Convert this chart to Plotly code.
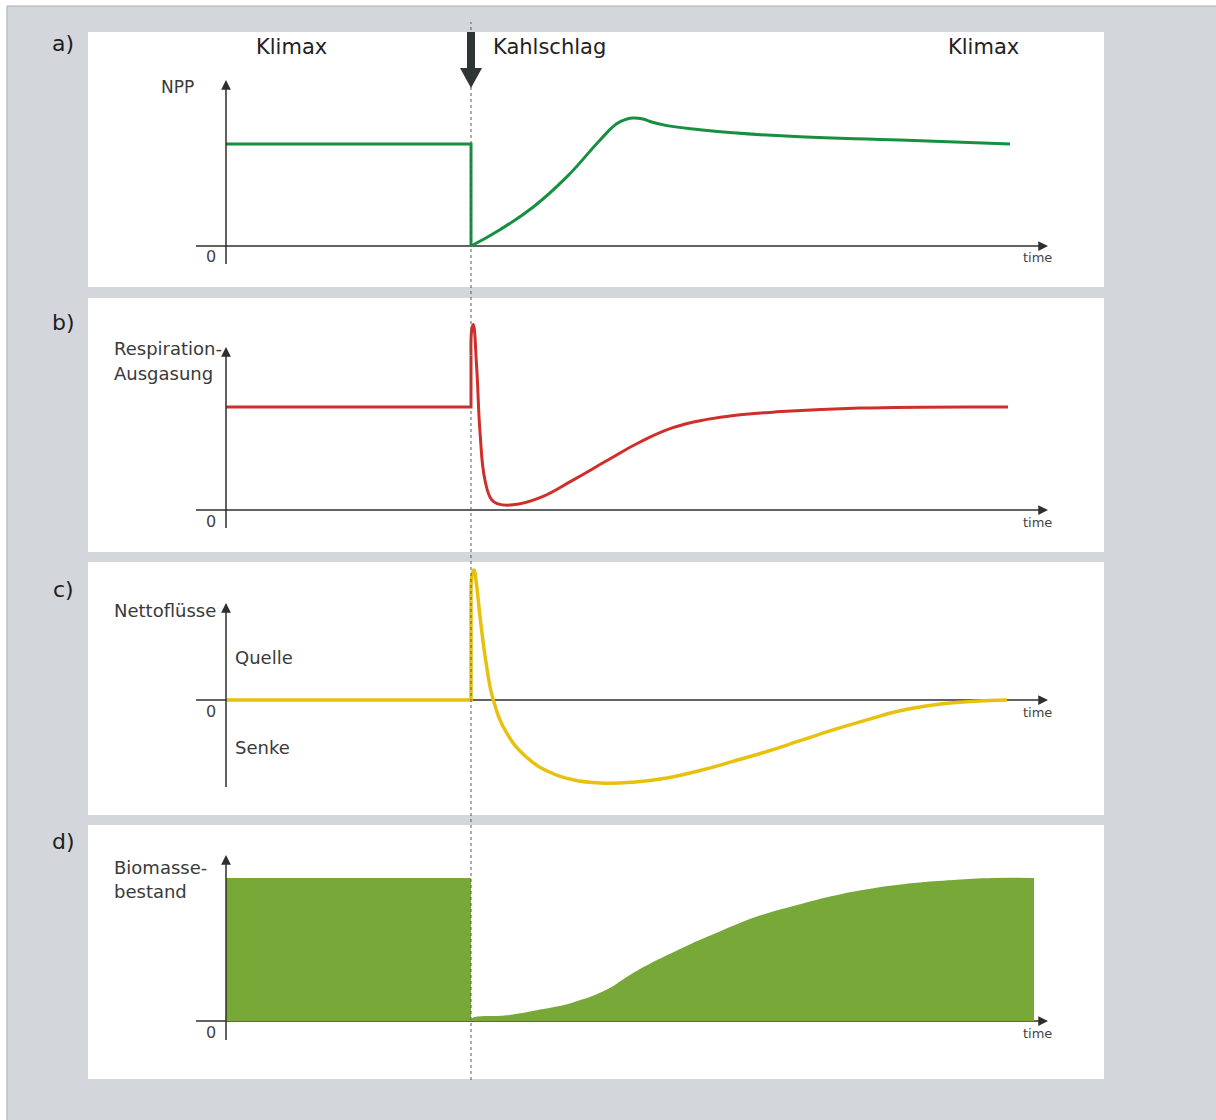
import plotly.graph_objects as go

W, H = 1216, 1120

# ---------------------------------------------------------------
# Time in arbitrary units; the clear-cut (Kahlschlag) happens at t = 10
# ---------------------------------------------------------------
T_CUT = 10.0

# a) NPP
npp_pre_t = [0.0, 10.0, 10.0]
npp_pre_v = [1.0, 1.0, 0.0]
npp_post_t = [10.0, 11.18, 12.53, 13.92, 15.27, 15.96, 16.37, 16.61, 17.02,
              17.31, 18.0, 19.35, 20.69, 23.43, 27.51, 32.0]
npp_post_v = [0.0, 0.16, 0.38, 0.68, 1.04, 1.2, 1.245, 1.255, 1.245,
              1.22, 1.18, 1.14, 1.11, 1.07, 1.04, 1.0]

# b) Respiration / Ausgasung
resp_pre_t = [0.0, 10.0, 10.0]
resp_pre_v = [1.0, 1.0, 1.5]
resp_post_t = [10.0, 10.03, 10.09, 10.23, 10.37, 10.57, 10.84, 11.1, 11.71,
               12.82, 14.16, 15.55, 16.9, 18.24, 19.63, 20.98, 22.33, 25.88, 31.92]
resp_post_v = [1.5, 1.75, 1.8, 1.39, 0.75, 0.29, 0.1, 0.06, 0.05,
               0.12, 0.29, 0.48, 0.66, 0.8, 0.88, 0.925, 0.95, 0.99, 1.0]

# c) Nettoflüsse (Quelle > 0, Senke < 0)
net_pre_t = [0.0, 10.0, 10.0]
net_pre_v = [0.0, 0.0, 1.2]
net_post_t = [10.0, 10.05, 10.12, 10.22, 10.37, 10.64, 10.91, 11.46, 12.27, 13.22,
              14.16, 15.27, 16.61, 18.0, 19.35, 20.69, 22.08, 23.43, 24.78,
              26.16, 27.51, 29.43, 31.88]
net_post_v = [1.2, 1.52, 1.566, 1.4, 1.0, 0.4, 0.0, -0.4, -0.69, -0.87,
              -0.96, -1.0, -0.99, -0.94, -0.85, -0.74, -0.62, -0.49, -0.36,
              -0.24, -0.13, -0.04, 0.0]

# d) Biomassebestand
bio_pre_t = [0.0, 10.0]
bio_pre_v = [1.0, 1.0]
bio_post_t = [10.0, 10.04, 11.47, 12.82, 14.16, 15.55, 16.2, 16.86, 18.49,
              20.08, 21.67, 23.27, 24.9, 26.49, 28.08, 29.71, 31.31, 32.98]
bio_post_v = [0.0, 0.02, 0.04, 0.08, 0.13, 0.22, 0.29, 0.36, 0.5,
              0.62, 0.73, 0.81, 0.88, 0.93, 0.965, 0.986, 1.0, 1.0]

panel_letters = ["a)", "b)", "c)", "d)"]

# ---------------------------------------------------------------
# Page geometry (pixels)
# ---------------------------------------------------------------
AXIS_PX = 226          # x pixel of t = 0
PX_PER_T = 24.5        # pixels per time unit
PANEL_X0, PANEL_X1 = 88, 1104
# (top, bottom, baseline, pixels per unit)
PANELS = [
    (32, 287, 246, 102),
    (298, 552, 510, 103),
    (562, 815, 700, 83),
    (825, 1079, 1021, 143),
]

GREEN = "#16903f"
RED = "#cf2f2a"
YELLOW = "#e8c10e"
FILL_GREEN = "#77a838"
AXIS_COL = "#2e2e2e"
BG_GRAY = "#d3d6db"
FONT = "DejaVu Sans"


def fx(px):
    return px / W


def fy(py):
    return 1 - py / H


x_range = [(0 - AXIS_PX) / PX_PER_T, (W - AXIS_PX) / PX_PER_T]

fig = go.Figure()


def line(t, v, color, ax, shape="linear", width=3):
    fig.add_trace(go.Scatter(x=t, y=v, mode="lines", xaxis=ax[0], yaxis=ax[1],
                             line=dict(color=color, width=width, shape=shape,
                                       smoothing=1.3),
                             hoverinfo="skip", showlegend=False))


line(npp_pre_t, npp_pre_v, GREEN, ("x", "y"))
line(npp_post_t, npp_post_v, GREEN, ("x", "y"), shape="spline")
line(resp_pre_t, resp_pre_v, RED, ("x2", "y2"))
line(resp_post_t, resp_post_v, RED, ("x2", "y2"), shape="spline")
line(net_pre_t, net_pre_v, YELLOW, ("x3", "y3"), width=3.5)
line(net_post_t, net_post_v, YELLOW, ("x3", "y3"), shape="spline", width=3.5)

for t, v, shp in [(bio_pre_t, bio_pre_v, "linear"),
                  (bio_post_t, bio_post_v, "spline")]:
    fig.add_trace(go.Scatter(x=t, y=v, mode="lines", xaxis="x4", yaxis="y4",
                             line=dict(width=0, color=FILL_GREEN, shape=shp,
                                       smoothing=1.3),
                             fill="tozeroy", fillcolor=FILL_GREEN,
                             hoverinfo="skip", showlegend=False))

shapes = []
annotations = []

# background: light frame and white panels
shapes.append(dict(type="rect", xref="paper", yref="paper", layer="below",
                   x0=fx(7), x1=fx(W + 5), y0=fy(H + 5), y1=fy(6),
                   fillcolor=BG_GRAY, line=dict(color="#a9acb0", width=1)))

layout_axes = {}
AXIS_TIP_PX = [80, 347, 603, 855]
AXIS_BOTTOM_PX = [264, 528, 787, 1040]
for i, (top, bot, base, scale) in enumerate(PANELS):
    n = "" if i == 0 else str(i + 1)
    shapes.append(dict(type="rect", xref="paper", yref="paper", layer="below",
                       x0=fx(PANEL_X0), x1=fx(PANEL_X1), y0=fy(bot), y1=fy(top),
                       fillcolor="#ffffff", line=dict(width=0)))
    y_range = [(base - bot) / scale, (base - top) / scale]
    layout_axes["xaxis" + n] = dict(domain=[0, 1], range=x_range, visible=False,
                                    fixedrange=True, anchor="y" + n)
    layout_axes["yaxis" + n] = dict(domain=[fy(bot), fy(top)], range=y_range,
                                    visible=False, fixedrange=True, anchor="x" + n)

    xr = "x" + n
    yr = "y" + n
    t_left = (196 - AXIS_PX) / PX_PER_T
    t_tip = (1048 - AXIS_PX) / PX_PER_T
    v_tip = (base - AXIS_TIP_PX[i]) / scale
    v_bottom = (base - AXIS_BOTTOM_PX[i]) / scale

    # time axis (below the data)
    shapes.append(dict(type="line", xref=xr, yref=yr, layer="below",
                       x0=t_left, x1=t_tip - 0.2, y0=0, y1=0,
                       line=dict(color=AXIS_COL, width=1.5)))
    annotations.append(dict(x=t_tip, y=0, xref=xr, yref=yr, text="",
                            showarrow=True, arrowhead=2, arrowsize=1.3,
                            arrowwidth=1.5, arrowcolor=AXIS_COL, ax=-10, ay=0))
    # value axis
    shapes.append(dict(type="line", xref=xr, yref=yr, layer="above",
                       x0=0, x1=0, y0=v_bottom, y1=v_tip - 0.02,
                       line=dict(color=AXIS_COL, width=1.5)))
    annotations.append(dict(x=0, y=v_tip, xref=xr, yref=yr, text="",
                            showarrow=True, arrowhead=2, arrowsize=1.3,
                            arrowwidth=1.5, arrowcolor=AXIS_COL, ax=0, ay=10))

    # "0" and "time"
    annotations.append(dict(x=fx(211), y=fy(base + 11), xref="paper", yref="paper",
                            text="0", showarrow=False, xanchor="center",
                            yanchor="middle", font=dict(family=FONT, size=16,
                                                        color="#444444")))
    annotations.append(dict(x=fx(1037), y=fy(base + 12), xref="paper", yref="paper",
                            text="time", showarrow=False, xanchor="center",
                            yanchor="middle", font=dict(family=FONT, size=13,
                                                        color="#444444")))

# panel letters
for letter, ypx in zip(panel_letters, [44, 322, 589, 841]):
    annotations.append(dict(x=fx(63), y=fy(ypx), xref="paper", yref="paper",
                            text=letter, showarrow=False, xanchor="center",
                            yanchor="middle",
                            font=dict(family=FONT, size=22, color="#1e1e1e")))


def text(px, py, s, size, anchor="left", color="#3a3a3a"):
    annotations.append(dict(x=fx(px), y=fy(py), xref="paper", yref="paper",
                            text=s, showarrow=False, xanchor=anchor,
                            yanchor="middle",
                            font=dict(family=FONT, size=size, color=color)))


text(291, 47, "Klimax", 21, "center", "#222222")
text(491, 47, "Kahlschlag", 21, "left", "#222222")
text(983, 47, "Klimax", 21, "center", "#222222")

text(177, 87, "NPP", 17, "center")
text(112, 348, "Respiration-", 18)
text(112, 373, "Ausgasung", 18)
text(112, 610, "Nettoflüsse", 18)
text(233, 657, "Quelle", 18)
text(233, 747, "Senke", 18)
text(112, 867, "Biomasse-", 18)
text(112, 892, "bestand", 18)

# dashed line marking the clear-cut through all panels
shapes.append(dict(type="line", xref="x", yref="paper", layer="above",
                   x0=T_CUT, x1=T_CUT, y0=fy(1080), y1=fy(22),
                   line=dict(color="#5a5a5a", width=1, dash="3px,3px")))

# bold arrow above the clear-cut
hw_shaft = 4 / PX_PER_T
hw_head = 11 / PX_PER_T
y_top, y_neck, y_point = fy(32), fy(68), fy(88)
arrow_path = (f"M {T_CUT - hw_shaft} {y_top} L {T_CUT + hw_shaft} {y_top} "
              f"L {T_CUT + hw_shaft} {y_neck} L {T_CUT + hw_head} {y_neck} "
              f"L {T_CUT} {y_point} L {T_CUT - hw_head} {y_neck} "
              f"L {T_CUT - hw_shaft} {y_neck} Z")
shapes.append(dict(type="path", xref="x", yref="paper", layer="above",
                   path=arrow_path, fillcolor="#2f3535", line=dict(width=0)))

fig.update_layout(
    width=W, height=H,
    margin=dict(l=0, r=0, t=0, b=0),
    paper_bgcolor="#ffffff",
    plot_bgcolor="rgba(0,0,0,0)",
    shapes=shapes,
    annotations=annotations,
    showlegend=False,
    **layout_axes,
)

fig.write_html("out.html", config=dict(displayModeBar=False))
